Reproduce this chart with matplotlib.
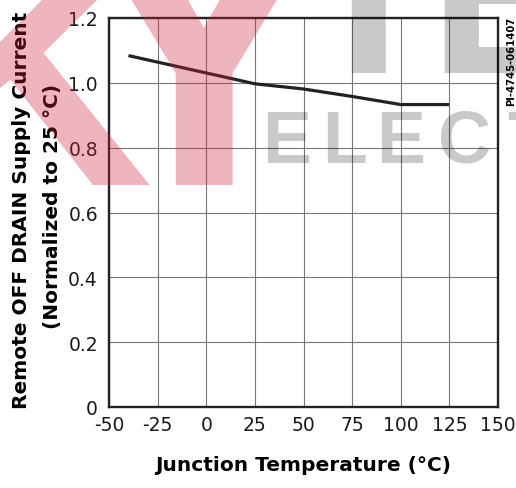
import matplotlib
matplotlib.use('Agg')
import matplotlib.pyplot as plt

# ── Data
temp_c = [-40, 25, 50, 75, 100, 125]
current_norm = [1.084, 0.997, 0.981, 0.958, 0.933, 0.933]

x_ticks = [-50, -25, 0, 25, 50, 75, 100, 125, 150]
x_labels = ['-50', '-25', '0', '25', '50', '75', '100', '125', '150']
y_ticks = [0, 0.2, 0.4, 0.6, 0.8, 1.0, 1.2]
y_labels = ['0', '0.2', '0.4', '0.6', '0.8', '1.0', '1.2']

W, H, DPI = 516, 489, 100
INK = '#222222'

plt.rcParams['font.family'] = ['DejaVu Sans']

fig = plt.figure(figsize=(W / DPI, H / DPI), dpi=DPI, facecolor='white')
ax = fig.add_axes([109 / W, 1 - 408 / H, (498 - 109) / W, (408 - 19) / H])

ax.plot(temp_c, current_norm, color=INK, linewidth=2.3, solid_capstyle='butt',
        solid_joinstyle='round', zorder=3)

ax.set_xlim(-50, 150)
ax.set_ylim(0, 1.2)
ax.set_xticks(x_ticks)
ax.set_xticklabels(x_labels)
ax.set_yticks(y_ticks)
ax.set_yticklabels(y_labels)
ax.tick_params(length=0, labelsize=13.5, colors='#1a1a1a')
ax.tick_params(axis='x', pad=6)
ax.tick_params(axis='y', pad=8)
ax.grid(True, color='#777777', linewidth=0.8)
ax.set_axisbelow(True)
for sp in ax.spines.values():
    sp.set_linewidth(1.7)
    sp.set_color(INK)

ax.set_xlabel('Junction Temperature (°C)', fontsize=14.5, fontweight='bold',
              labelpad=15)
fig.text(22 / W, 1 - 210 / H, 'Remote OFF DRAIN Supply Current',
         rotation=90, ha='center', va='center', fontsize=14.5,
         fontweight='bold')
fig.text(53 / W, 1 - 206 / H, '(Normalized to 25 °C)',
         rotation=90, ha='center', va='center', fontsize=14.5,
         fontweight='bold')

# ── Part number tag on the right edge
fig.text(511 / W, 1 - 61 / H, 'PI-4745-061407', rotation=90,
         ha='center', va='center', fontsize=7.2, fontweight='bold')

# ── Distributor watermark (multiply-like overlay)
WM = dict(fontfamily='Liberation Sans', fontweight='bold', zorder=10)
PINK = dict(color=(0.80, 0.12, 0.24), alpha=0.33, va='baseline', **WM)
GREY = dict(color='black', alpha=0.21, va='baseline', **WM)
fig.text(-88 / W, 1 - 185 / H, 'K', fontsize=240, ha='left', **PINK)
fig.text(203 / W, 1 - 185 / H, 'Y', fontsize=285, ha='center', **PINK)
fig.text(368 / W, 1 - 73 / H, 'I', fontsize=170, ha='center', **GREY)
fig.text(428 / W, 1 - 73 / H, 'E', fontsize=170, ha='left', **GREY)
for ch, cx in zip('ELECT', [287, 345, 401, 465, 530]):
    fig.text(cx / W, 1 - 163 / H, ch, fontsize=53, ha='center', **GREY)

fig.savefig('out.png', dpi=DPI, facecolor='white')
